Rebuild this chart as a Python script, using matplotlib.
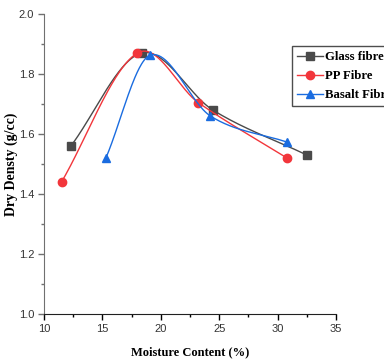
import numpy as np
import matplotlib
matplotlib.use("Agg")
import matplotlib.pyplot as plt
from matplotlib.ticker import MultipleLocator, FormatStrFormatter

# data
glass_x = [12.3, 18.35, 24.45, 32.5]
glass_y = [1.56, 1.87, 1.68, 1.53]
pp_x = [11.5, 18.0, 23.2, 30.8]
pp_y = [1.44, 1.87, 1.705, 1.52]
basalt_x = [15.3, 19.05, 24.25, 30.8]
basalt_y = [1.52, 1.862, 1.66, 1.573]

labels = ["Glass fibre", "PP Fibre", "Basalt Fibre"]
colors = ["#4a4a4a", "#f2363b", "#1a6ce0"]
markers = ["s", "o", "^"]


# cubic hermite (catmull-rom style) curve, only for drawing the smooth line
def smooth(x, y, n=60):
    x = np.asarray(x, float)
    y = np.asarray(y, float)
    k = len(x)
    m = np.zeros(k)
    m[0] = (y[1] - y[0]) / (x[1] - x[0])
    m[-1] = (y[-1] - y[-2]) / (x[-1] - x[-2])
    for i in range(1, k - 1):
        m[i] = (y[i + 1] - y[i - 1]) / (x[i + 1] - x[i - 1])
    xs_all, ys_all = [], []
    for i in range(k - 1):
        h = x[i + 1] - x[i]
        t = np.linspace(0, 1, n)
        h00 = 2 * t ** 3 - 3 * t ** 2 + 1
        h10 = t ** 3 - 2 * t ** 2 + t
        h01 = -2 * t ** 3 + 3 * t ** 2
        h11 = t ** 3 - t ** 2
        xs_all.append(x[i] + t * h)
        ys_all.append(h00 * y[i] + h10 * h * m[i] + h01 * y[i + 1] + h11 * h * m[i + 1])
    return np.concatenate(xs_all), np.concatenate(ys_all)


fig = plt.figure(figsize=(3.84, 3.64), dpi=100)
ax = fig.add_axes([44 / 384, 50 / 364, 292 / 384, 300 / 364])

series = [(glass_x, glass_y), (pp_x, pp_y), (basalt_x, basalt_y)]
for (x, y), lab, c, m in zip(series, labels, colors, markers):
    ms = 5.5 if m == "s" else 6
    xs, ys = smooth(x, y)
    ax.plot(xs, ys, color=c, lw=1.0)
    ax.plot(x, y, m, color=c, ms=ms)
    ax.plot([], [], color=c, lw=1.0, marker=m, ms=ms, label=lab)

ax.set_xlim(10, 35)
ax.set_ylim(1.0, 2.0)
ax.xaxis.set_major_locator(MultipleLocator(5))
ax.xaxis.set_minor_locator(MultipleLocator(2.5))
ax.yaxis.set_major_locator(MultipleLocator(0.2))
ax.yaxis.set_minor_locator(MultipleLocator(0.1))
ax.yaxis.set_major_formatter(FormatStrFormatter("%.1f"))

ax.spines["top"].set_visible(False)
ax.spines["right"].set_visible(False)
ax.spines["left"].set_color("#707070")
ax.spines["bottom"].set_color("#202020")
ax.tick_params(which="major", length=4, width=1, labelsize=8, labelcolor="#333333",
               direction="out")
ax.tick_params(which="minor", length=2, width=1, direction="out")
ax.tick_params(axis="y", colors="#707070", labelcolor="#333333", which="both", pad=3)
for t in ax.get_xticklabels() + ax.get_yticklabels():
    t.set_family("Liberation Sans")

ax.set_xlabel("Moisture Content (%)", family="Liberation Serif", weight="bold", size=9)
ax.set_ylabel("Dry Densty (g/cc)", family="Liberation Serif", weight="bold", size=10)
ax.xaxis.set_label_coords(0.5, -0.127)
ax.yaxis.set_label_coords(-0.112, 0.5)
ax.yaxis.label.set_va("center")
ax.xaxis.label.set_va("center")

leg = fig.legend(loc="upper left", bbox_to_anchor=(292 / 384, 1 - 46 / 364),
                 prop={"family": "Liberation Serif", "weight": "bold", "size": 9.2},
                 frameon=True, fancybox=False, edgecolor="#202020",
                 handlelength=2.0, handletextpad=0.15, borderpad=0.4,
                 labelspacing=0.55, borderaxespad=0)
leg.get_frame().set_linewidth(1.0)

fig.savefig("out.png", dpi=100)
